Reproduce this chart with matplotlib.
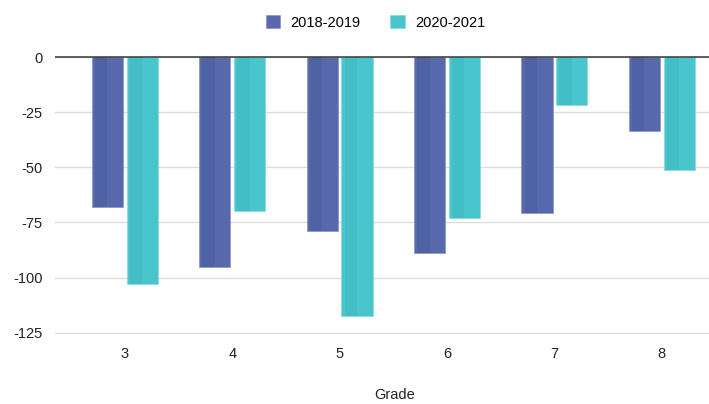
import matplotlib.pyplot as plt
import numpy as np

plt.rcParams['font.family'] = ['Liberation Sans', 'DejaVu Sans']

grades = ['3', '4', '5', '6', '7', '8']
y2018 = [-68, -95, -79, -89, -70.5, -33.5]
y2021 = [-103, -70, -117.5, -73, -21.5, -51]
yticks = [0, -25, -50, -75, -100, -125]

blue, blue_dark = '#5868ad', '#4f62a4'
teal, teal_dark = '#48c5cd', '#43bec7'

fig = plt.figure(figsize=(7.09, 4.04), dpi=100)
ax = fig.add_axes([55 / 709, 70 / 404, 654 / 709, 278 / 404])

x = np.arange(len(grades))
w = 0.29
off = 0.162
# main bars, then a slightly darker strip on the left side of each for shading
ax.bar(x - off, y2018, w, color=blue, edgecolor='#7f8cc4', linewidth=0.4, zorder=3, label='2018-2019')
ax.bar(x + off, y2021, w, color=teal, edgecolor='#7fd8de', linewidth=0.4, zorder=3, label='2020-2021')
ax.bar(x - off - w * 0.2, y2018, w * 0.4, color=blue_dark, linewidth=0, zorder=3.5)
ax.bar(x + off - w * 0.2, y2021, w * 0.4, color=teal_dark, linewidth=0, zorder=3.5)

ax.set_xlim(-0.65, 5.44)
ax.set_ylim(-125.6, 0.5)
ax.set_yticks(yticks)
ax.set_yticklabels([str(v) for v in yticks])
ax.set_xticks(x)
ax.set_xticklabels(grades)
ax.tick_params(length=0, labelsize=10.5, colors='#222222')
ax.tick_params(axis='y', pad=9)
ax.tick_params(axis='x', pad=9)
ax.grid(axis='y', color='#dddddd', linewidth=1, zorder=0)
ax.axhline(0, color='#444444', linewidth=1.2, zorder=4)
for s in ax.spines.values():
    s.set_visible(False)
ax.set_xlabel('Grade', fontsize=10.5, color='#222222')
ax.xaxis.set_label_coords(0.52, -0.195)

ax.legend(loc='center', bbox_to_anchor=(0.49, 1.12), ncol=2, frameon=False,
          fontsize=10.5, handlelength=1.0, handleheight=1.0, handletextpad=0.7, columnspacing=2.0)

fig.savefig('out.png', dpi=100)
